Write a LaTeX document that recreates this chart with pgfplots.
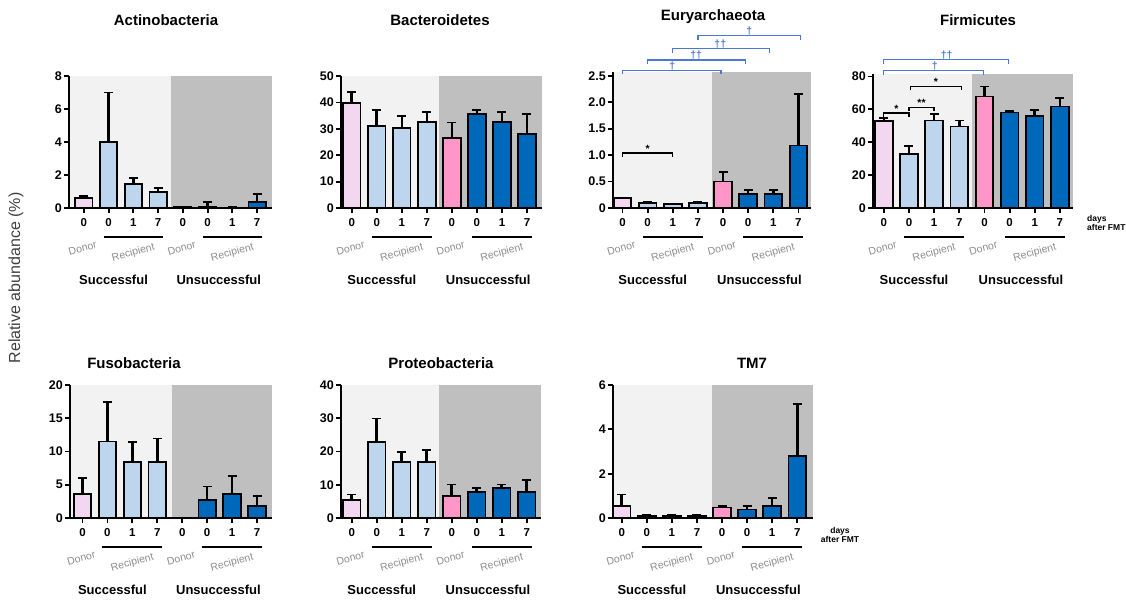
\documentclass[border=0pt]{standalone}
\usepackage{pgfplots}
\pgfplotsset{compat=1.18}
\usepackage{fontspec}
\setmainfont{Liberation Sans}
\definecolor{sdon}{RGB}{243,214,240}
\definecolor{srec}{RGB}{189,214,238}
\definecolor{udon}{RGB}{255,150,200}
\definecolor{urec}{RGB}{0,104,186}
\definecolor{shl}{RGB}{242,242,242}
\definecolor{shd}{RGB}{191,191,191}
\definecolor{sig}{RGB}{74,120,212}
\definecolor{lab}{RGB}{140,140,140}
\newcommand{\fs}[1]{\fontsize{#1}{#1}\selectfont}
\pgfplotsset{
  panel/.style={scale only axis, width=200pt, height=132pt, ymin=0, clip=false, axis on top,
    axis x line*=bottom, axis y line*=left,
    axis line style={line width=1.8pt, black},
    tick align=outside, major tick length=5pt,
    every tick/.style={black, line width=1.8pt},
    xtick={0,...,7}, xticklabels={0,0,1,7,0,0,1,7},
    /pgf/number format/assume math mode=true,
    xticklabel style={font=\bfseries\fs{11.5}, inner sep=1pt},
    xticklabel shift=4pt,
    yticklabel style={font=\bfseries\fs{12.5}, inner sep=2pt},
    anchor=south west,
  },
  grp/.style={ybar, bar width=0.7, bar shift=0pt, draw=black, line width=1.8pt, fill=#1,
    error bars/y dir=plus, error bars/y explicit,
    error bars/error mark=-,
    error bars/error bar style={line width=2.6pt, draw=black, solid},
    error bars/error mark options={line width=1.8pt, draw=black, mark size=4.5pt, rotate=90}},
}
\newcommand{\bg}[2]{%
  \fill[shl] (rel axis cs:0,0) rectangle (axis cs:#1,#2);
  \fill[shd] (axis cs:#1,0) rectangle (rel axis cs:1,1);}
\newcommand{\grplab}{%
  \draw[line width=1.3pt] ([yshift=-29pt]axis cs:0.8,0) -- ([yshift=-29pt]axis cs:3.2,0);
  \draw[line width=1.3pt] ([yshift=-29pt]axis cs:4.8,0) -- ([yshift=-29pt]axis cs:7.2,0);
  \node[text=lab, font=\fs{10.5}, rotate=15] at ([yshift=-40pt]axis cs:-0.05,0) {Donor};
  \node[text=lab, font=\fs{10.5}, rotate=15] at ([yshift=-45pt]axis cs:2,0) {Recipient};
  \node[text=lab, font=\fs{10.5}, rotate=15] at ([yshift=-40pt]axis cs:3.95,0) {Donor};
  \node[text=lab, font=\fs{10.5}, rotate=15] at ([yshift=-45pt]axis cs:6,0) {Recipient};
  \node[font=\bfseries\fs{13}] at ([yshift=-72pt]axis cs:1.2,0) {Successful};
  \node[font=\bfseries\fs{13}] at ([yshift=-72pt]axis cs:5.45,0) {Unsuccessful};}
% color, x1, x2, y, xc, label
\newcommand{\brk}[6]{%
  \draw[#1, line width=1.3pt] ([yshift=-4pt]axis cs:#2,#4) -- (axis cs:#2,#4) -- (axis cs:#3,#4) -- ([yshift=-4pt]axis cs:#3,#4);
  \node[text=#1, anchor=south, inner sep=0.5pt, font=\bfseries\fs{10.5}] at (axis cs:#5,#4) {#6};}
\begin{document}
\begin{tikzpicture}
% ---------- Actinobacteria
\begin{axis}[panel, at={(69pt,-208pt)}, width=203pt, height=132pt, xmin=-0.6, xmax=7.6, ymax=8, ytick={0,2,4,6,8}]
\bg{3.5}{8}
\addplot[grp=sdon] coordinates {(0,0.6) +- (0,0.13)};
\addplot[grp=srec] coordinates {(1,4.0) +- (0,3.0) (2,1.47) +- (0,0.34) (3,0.97) +- (0,0.23)};
\addplot[grp=udon] coordinates {(4,0.04) +- (0,0.02)};
\addplot[grp=urec] coordinates {(5,0.07) +- (0,0.29) (6,0.03) +- (0,0.02) (7,0.38) +- (0,0.47)};
\grplab
\end{axis}
% ---------- Bacteroidetes
\begin{axis}[panel, at={(341pt,-208pt)}, width=201pt, height=132pt, xmin=-0.43, xmax=7.6, ymax=50, ytick={0,10,...,50}]
\bg{3.5}{50}
\addplot[grp=sdon] coordinates {(0,39.9) +- (0,4.1)};
\addplot[grp=srec] coordinates {(1,31.1) +- (0,6.1) (2,30.2) +- (0,4.7) (3,32.5) +- (0,3.9)};
\addplot[grp=udon] coordinates {(4,26.4) +- (0,6.0)};
\addplot[grp=urec] coordinates {(5,35.5) +- (0,1.7) (6,32.5) +- (0,3.9) (7,28.1) +- (0,7.4)};
\grplab
\end{axis}
% ---------- Euryarchaeota
\begin{axis}[panel, at={(613pt,-208pt)}, width=198pt, height=136.5pt, xmin=-0.38, xmax=7.5, ymax=2.58, ytick={0,0.5,1,1.5,2,2.5}, yticklabels={0,0.5,1.0,1.5,2.0,2.5}]
\bg{3.55}{2.58}
\addplot[grp=sdon] coordinates {(0,0.19) +- (0,0.0)};
\addplot[grp=srec] coordinates {(1,0.09) +- (0,0.03) (2,0.075) +- (0,0.0) (3,0.09) +- (0,0.03)};
\addplot[grp=udon] coordinates {(4,0.50) +- (0,0.18)};
\addplot[grp=urec] coordinates {(5,0.26) +- (0,0.08) (6,0.26) +- (0,0.08) (7,1.18) +- (0,0.97)};
\brk{black}{0}{2}{1.04}{1}{*}
\brk{sig}{0}{3.92}{2.60}{1.98}{†}
\brk{sig}{1}{4.88}{2.80}{2.93}{††}
\brk{sig}{2}{5.85}{3.01}{3.89}{††}
\brk{sig}{3}{7.08}{3.26}{5.04}{†}
\grplab
\end{axis}
% ---------- Firmicutes
\begin{axis}[panel, at={(873pt,-208pt)}, width=199.5pt, height=134.2pt, xmin=-0.43, xmax=7.5, ymax=81.6, ytick={0,20,...,80}]
\bg{3.5}{81.6}
\addplot[grp=sdon] coordinates {(0,53.0) +- (0,1.7)};
\addplot[grp=srec] coordinates {(1,33.0) +- (0,4.9) (2,53.2) +- (0,4.1) (3,49.6) +- (0,3.6)};
\addplot[grp=udon] coordinates {(4,67.8) +- (0,6.1)};
\addplot[grp=urec] coordinates {(5,58.1) +- (0,1.0) (6,55.7) +- (0,4.0) (7,61.7) +- (0,5.1)};
\brk{black}{0}{1}{57.7}{0.5}{*}
\brk{black}{1}{2}{61.3}{1.5}{**}
\brk{black}{1.05}{3.1}{73.9}{2.07}{*}
\brk{sig}{0}{3.96}{83.6}{2.03}{†}
\brk{sig}{0}{4.95}{90.1}{2.5}{††}
\grplab
\end{axis}
% ---------- Fusobacteria
\begin{axis}[panel, at={(70pt,-518pt)}, width=202pt, height=133pt, xmin=-0.5, xmax=7.6, ymax=20, ytick={0,5,...,20}]
\bg{3.6}{20}
\addplot[grp=sdon] coordinates {(0,3.6) +- (0,2.45)};
\addplot[grp=srec] coordinates {(1,11.5) +- (0,5.9) (2,8.45) +- (0,3.0) (3,8.45) +- (0,3.5)};
\addplot[grp=urec] coordinates {(5,2.75) +- (0,2.0) (6,3.6) +- (0,2.7) (7,1.75) +- (0,1.5)};
\grplab
\end{axis}
% ---------- Proteobacteria
\begin{axis}[panel, at={(341pt,-518pt)}, width=200pt, height=133pt, xmin=-0.43, xmax=7.57, ymax=40, ytick={0,10,...,40}]
\bg{3.5}{40}
\addplot[grp=sdon] coordinates {(0,5.3) +- (0,1.8)};
\addplot[grp=srec] coordinates {(1,22.9) +- (0,7.0) (2,16.9) +- (0,3.0) (3,16.9) +- (0,3.5)};
\addplot[grp=udon] coordinates {(4,6.6) +- (0,3.45)};
\addplot[grp=urec] coordinates {(5,7.8) +- (0,1.25) (6,9.05) +- (0,1.0) (7,7.8) +- (0,3.75)};
\grplab
\end{axis}
% ---------- TM7
\begin{axis}[panel, at={(613pt,-518pt)}, width=200pt, height=133pt, xmin=-0.35, xmax=7.63, ymax=6, ytick={0,2,4,6}]
\bg{3.6}{6}
\addplot[grp=sdon] coordinates {(0,0.54) +- (0,0.52)};
\addplot[grp=srec] coordinates {(1,0.075) +- (0,0.075) (2,0.075) +- (0,0.075) (3,0.075) +- (0,0.075)};
\addplot[grp=udon] coordinates {(4,0.47) +- (0,0.07)};
\addplot[grp=urec] coordinates {(5,0.38) +- (0,0.16) (6,0.54) +- (0,0.38) (7,2.8) +- (0,2.34)};
\grplab
\end{axis}
% ---------- titles and labels
\node[font=\bfseries\fs{15}] at (166pt,-20pt) {Actinobacteria};
\node[font=\bfseries\fs{15}] at (440pt,-20pt) {Bacteroidetes};
\node[font=\bfseries\fs{15}] at (713pt,-17pt) {Euryarchaeota};
\node[font=\bfseries\fs{15}] at (978pt,-20pt) {Firmicutes};
\node[font=\bfseries\fs{15}] at (134pt,-363pt) {Fusobacteria};
\node[font=\bfseries\fs{15}] at (441pt,-363pt) {Proteobacteria};
\node[font=\bfseries\fs{15}] at (752pt,-363pt) {TM7};
\node[rotate=90, text=black!75, font=\fs{16}] at (16pt,-278pt) {Relative abundance (\%)};
\node[anchor=west, align=left, font=\bfseries\fs{8.5}, inner sep=0pt] at (1087pt,-223pt) {days\\after FMT};
\node[align=center, font=\bfseries\fs{8.5}, inner sep=0pt] at (840pt,-535pt) {days\\after FMT};
\pgfresetboundingbox
\path (0pt,0pt) rectangle (1126pt,-613pt);
\end{tikzpicture}
\end{document}
